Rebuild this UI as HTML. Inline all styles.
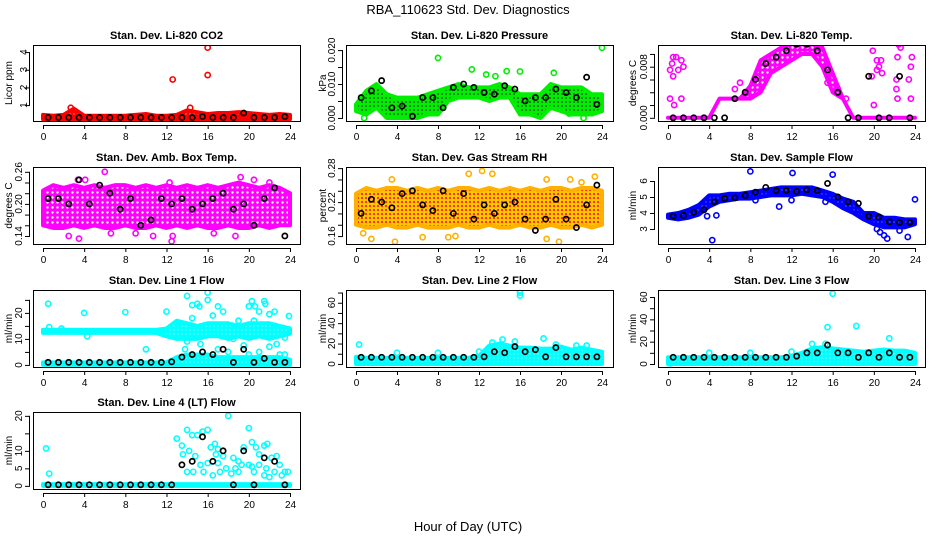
<!DOCTYPE html>
<html><head><meta charset="utf-8"><style>
body{margin:0;background:#fff;}
svg{display:block;font-family:"Liberation Sans",Arial,sans-serif;}
</style></head><body>
<svg id="c" width="936" height="540" xmlns="http://www.w3.org/2000/svg">
<rect width="936" height="540" fill="#fff"/>
<defs>
<pattern id="pat-red" width="4" height="4" patternUnits="userSpaceOnUse"><rect width="4" height="4" fill="#ff0000"/><circle cx="2" cy="2" r="0.7" fill="#ff9090"/></pattern>
<pattern id="pat-green" width="4" height="4" patternUnits="userSpaceOnUse"><rect width="4" height="4" fill="#00ee00"/><circle cx="2" cy="2" r="0.9" fill="#104010"/></pattern>
<pattern id="pat-magenta" width="5" height="5" patternUnits="userSpaceOnUse"><rect width="5" height="5" fill="#ff00ff"/><circle cx="2.5" cy="2.5" r="1.2" fill="#ffffff"/></pattern>
<pattern id="pat-orange" width="4" height="4" patternUnits="userSpaceOnUse"><rect width="4" height="4" fill="#ffc800"/><circle cx="2" cy="2" r="1.1" fill="#ff2000"/></pattern>
<pattern id="pat-blue" width="4" height="4" patternUnits="userSpaceOnUse"><rect width="4" height="4" fill="#0000ff"/><circle cx="2" cy="2" r="0.6" fill="#8080ff"/></pattern>
<pattern id="pat-cyan" width="4" height="4" patternUnits="userSpaceOnUse"><rect width="4" height="4" fill="#00ffff"/><circle cx="2" cy="2" r="0.6" fill="#c0ffff"/></pattern>
</defs>
<text x="468" y="14" text-anchor="middle" font-size="13">RBA_110623  Std. Dev. Diagnostics</text>
<text x="468" y="531" text-anchor="middle" font-size="13">Hour of Day (UTC)</text>
</svg>
<script>
// ---- shared data ----
const bandHours = [0,1,2,3,4,5,6,7,8,9,10,11,12,13,14,15,16,17,18,19,20,21,22,23,24];
const blackHours = [0.5,1.5,2.5,3.5,4.5,5.5,6.5,7.5,8.5,9.5,10.5,11.5,12.5,13.5,14.5,15.5,16.5,17.5,18.5,19.5,20.5,21.5,22.5,23.5];
const xTicks = [0,4,8,12,16,20,24];

// CO2
const co2Lo = [0.2,0.2,0.2,0.2,0.2,0.2,0.2,0.2,0.2,0.2,0.2,0.2,0.2,0.2,0.2,0.2,0.2,0.2,0.2,0.2,0.2,0.2,0.2,0.2,0.2];
const co2Hi = [0.45,0.4,0.45,0.8,0.4,0.4,0.4,0.4,0.4,0.45,0.5,0.4,0.4,0.45,0.7,0.6,0.5,0.55,0.55,0.6,0.55,0.5,0.45,0.5,0.45];
const co2Out = [[12.6,2.45],[16,4.25],[16,2.7],[2.7,0.85],[14.3,0.85]];
const co2Black = [0.3,0.3,0.3,0.3,0.3,0.3,0.3,0.3,0.3,0.3,0.3,0.3,0.3,0.3,0.3,0.35,0.3,0.3,0.3,0.55,0.3,0.3,0.3,0.35];
// Pressure
const prLo = [0.002,0.001,0.003,0,0,0,0,0.001,0.001,0.005,0.006,0.006,0.006,0.005,0.006,0.006,0.001,0.001,0,0.003,0.002,0.001,0.001,0.001,0.002];
const prHi = [0.004,0.008,0.010,0.007,0.006,0.006,0.006,0.007,0.008,0.009,0.010,0.009,0.009,0.009,0.010,0.009,0.007,0.007,0.007,0.010,0.009,0.009,0.009,0.007,0.007];
const prOut = [[8,0.0177],[11.3,0.0143],[12.7,0.0128],[13.6,0.0123],[14.7,0.0138],[16,0.0137],[19.3,0.0133],[24,0.0207],[0.8,0],[20.8,0.0013],[22.2,0]];
const prBlack = [0.006,0.008,0.011,0.003,0.0035,0.0005,0.006,0.006,0.003,0.009,0.010,0.009,0.0075,0.007,0.0095,0.0085,0.005,0.006,0.006,0.0085,0.0075,0.006,0.012,0.004];
// Temp
const tpLo = [0,0,0,0,0,0.003,0.003,0.003,0.003,0.004,0.007,0.008,0.009,0.010,0.010,0.008,0.004,0.003,0,0,0,0,0,0,0];
const tpHi = [0,0,0,0,0,0.003,0.003,0.003,0.005,0.009,0.010,0.011,0.0115,0.0115,0.0115,0.011,0.007,0.003,0,0,0,0,0,0,0];
const tpOut = [[0.2,0.0075],[0.5,0.0095],[0.8,0.0095],[0.4,0.0085],[0.5,0.0065],[1,0.0075],[1.3,0.009],[1.5,0.008],[0.2,0.003],[0.6,0.002],[1.3,0.003],[19.9,0.0105],[20.3,0.009],[20.7,0.009],[20.5,0.008],[20.3,0.0075],[19.8,0.0065],[20.8,0.007],[22.4,0.0115],[22.6,0.011],[22.3,0.0095],[22.2,0.006],[22.3,0.003],[22.2,0.0045],[23.7,0.0095],[23.6,0.008],[23.6,0.003],[23.4,0.006],[20,0.002],[7,0.0055],[6.5,0.0045],[8.8,0.0065],[15.5,0.0055],[16.5,0.0045],[17.3,0.003]];
const tpBlack = [0,0,0,0,0,0,0.003,0.004,0.006,0.0085,0.0095,0.0105,0.0115,0.0115,0.0105,0.0075,0.004,0,0,0.0065,0,0,0.0065,0];
// Amb box
const abLo = [0.16,0.155,0.155,0.16,0.155,0.16,0.155,0.155,0.16,0.155,0.155,0.16,0.155,0.16,0.155,0.16,0.155,0.155,0.16,0.155,0.155,0.16,0.155,0.16,0.16];
const abHi = [0.225,0.235,0.23,0.235,0.23,0.235,0.23,0.235,0.235,0.23,0.235,0.23,0.235,0.23,0.235,0.23,0.235,0.23,0.235,0.24,0.235,0.23,0.235,0.23,0.22];
const abOut = [[2.5,0.14],[3.5,0.135],[6,0.26],[6.6,0.145],[9,0.145],[10.7,0.14],[12.5,0.13],[12.6,0.14],[19.2,0.25],[20.5,0.245],[18.7,0.14],[16.6,0.145],[3.4,0.245],[4.1,0.245],[12.3,0.24],[22,0.24]];
const abBlack = [0.21,0.21,0.20,0.245,0.20,0.235,0.22,0.19,0.21,0.16,0.17,0.21,0.20,0.21,0.19,0.20,0.21,0.22,0.19,0.20,0.16,0.21,0.23,0.14];
// Gas stream RH
const rhLo = [0.18,0.175,0.175,0.18,0.175,0.175,0.18,0.175,0.175,0.175,0.18,0.175,0.175,0.18,0.175,0.175,0.18,0.175,0.175,0.18,0.175,0.175,0.18,0.175,0.18];
const rhHi = [0.235,0.245,0.24,0.245,0.245,0.24,0.245,0.24,0.245,0.24,0.245,0.245,0.24,0.245,0.24,0.245,0.24,0.245,0.24,0.245,0.245,0.24,0.245,0.245,0.24];
const rhOut = [[0.7,0.165],[1.5,0.155],[3.5,0.26],[6.5,0.158],[9,0.158],[11,0.27],[12.3,0.275],[13.3,0.27],[18.6,0.26],[18.6,0.155],[19.8,0.15],[20.9,0.26],[22,0.255],[23.3,0.265],[9.7,0.16],[3.8,0.15]];
const rhBlack = [0.20,0.225,0.22,0.21,0.235,0.24,0.215,0.205,0.24,0.20,0.235,0.19,0.215,0.20,0.215,0.22,0.19,0.17,0.19,0.225,0.19,0.175,0.215,0.25];
// Sample flow
const sfLo = [3.7,3.6,3.7,3.9,4.4,4.7,4.8,4.9,4.9,5.0,5.1,5.1,5.1,5.2,5.1,5.0,4.7,4.3,4.0,3.6,3.3,3.1,3.1,3.1,3.3];
const sfHi = [3.9,4.0,4.2,4.5,5.1,5.1,5.2,5.2,5.3,5.4,5.5,5.6,5.6,5.6,5.6,5.4,5.2,4.9,4.7,4.0,4.0,3.7,3.7,3.6,3.6];
const sfOut = [[4.3,2.3],[8,6.6],[12.1,6.5],[16,6.4],[10.8,4.4],[12,4.8],[3.8,3.8],[4.7,3.85],[20.3,3.0],[20.6,2.8],[21.3,2.4],[23.3,2.5],[24,4.85],[22.5,2.9],[21,2.6],[8.5,4.8],[15.3,4.7]];
const sfBlack = [3.8,3.85,4.05,4.2,4.7,4.9,4.95,5.1,5.3,5.6,5.4,5.4,5.35,5.45,5.4,5.85,5.0,4.7,4.6,3.8,3.75,3.45,3.4,3.4];
// Line 1
const l1Lo = [12.3,12.3,12.3,12.3,12.3,12.3,12.3,12.3,12.3,12.3,12.3,12.3,11,10,10,10,11,11,10,11,10,11,10,11,12];
const l1Hi = [13.5,13.5,13.5,13.5,13.5,13.5,13.5,13.5,13.5,13.5,13.5,13.5,14,17,16,15,16,16,16,15,16,16,16,15,14];
const l1Lo2 = [0,0,0,0,0,0,0,0,0,0,0,0,0,0,0,0,0,0,0,0,0,0,0,0,0];
const l1Hi2 = [1,1,1,1,1,1,1,1,1,1,1,1,1,3,4,4,4,3,3,3,3,3,3,3,2];
const l1Out = [[0.5,23.5],[0.6,14.5],[1.8,14],[4,20],[4.3,11],[8,20.3],[12,20.5],[14,26.5],[14.5,23],[15,23.5],[15.2,22.5],[16,27.8],[16,25],[16.5,19],[17,22.5],[17.5,20.5],[18.5,10],[20,22.5],[20.3,24.5],[20.6,22.5],[21,20.5],[21.5,24.5],[21.6,23.5],[22,19.5],[22.5,20.5],[23.9,18.8],[23.5,10.5],[10,6],[14,9],[13.8,6],[15.3,8],[17,6],[18,5],[19.5,7.5],[20,4],[21,5],[22,7],[22.7,8],[23,4],[23.5,4],[13,16],[14.5,18],[19,17],[20.5,17]];
const l1Black = [1,1,1,1,1,1,1,1,1,1,1,1,1.2,3,4,5,4,6,1,6,1,2.5,1,1];
// Line 2
const l2Lo = [0,0,0,0,0,0,0,0,0,0,0,0,0,0,0,0,0,0,0,0,0,0,0,0,0];
const l2Hi = [7,6,6,6,6,6,6,6,6,6,6,6,8,18,20,18,16,16,15,15,17,14,16,14,12];
const l2Out = [[0.3,19],[4,11],[8,11],[12,12],[13.3,21],[14.3,24],[15.5,22],[16,67],[16,70],[16,72],[18.3,25],[19.5,19],[21.5,18],[22.5,18]];
const l2Black = [6.5,6.5,6.5,6.5,6.5,6.5,6.5,6.5,6.5,6.5,6.5,6.5,7,12,11,17,12,14,7,16,7,7,7,7];
// Line 3
const l3Lo = [0,0,0,0,0,0,0,0,0,0,0,0,0,0,0,0,0,0,0,0,0,0,0,0,0];
const l3Hi = [6,6,6,6,6,6,6,6,6,6,6,6,7,10,14,15,14,13,12,11,12,13,12,12,10];
const l3Out = [[0.2,0.5],[4,10],[8,10],[12,11],[15.5,33],[16,63],[18.3,34],[21.5,23],[14,18],[15.3,18],[22,9]];
const l3Black = [6,6,6,6,6,6,6,6,6,6,6,6,7,10,10,17,10,10,6,10,6,10,6,6];
// Line 4
const l4Lo = [0,0,0,0,0,0,0,0,0,0,0,0,0,0,0,0,0,0,0,0,0,0,0,0,0];
const l4Hi = [0.5,0.5,0.5,0.5,0.5,0.5,0.5,0.5,0.5,0.5,0.5,0.5,0.5,0.5,0.5,0.5,0.5,0.5,0.5,0.5,0.5,0.5,0.5,0.5,0.5];
const l4Out = [[0.3,10.7],[0.6,3.5],[13,13.5],[13.5,11.5],[14,16],[14.5,14.5],[15,14.5],[15.5,15.5],[16,16],[16.3,11],[16.7,12],[17,10.5],[17.5,8.5],[18,20],[18.5,8],[19,7],[19.5,11],[20,16.5],[20.3,12.5],[20.7,11],[21,9],[21.5,11.5],[21.8,12],[22.2,8],[22.7,8.5],[23,6],[23.5,4],[13.6,9],[14.2,10],[14.8,8.5],[15.3,6],[15.6,4],[16,6.5],[16.5,3],[17.2,4],[17.8,5],[18.3,3.5],[19,4],[19.3,6],[20,6],[20.5,4],[21,6],[21.5,3],[22,2.5],[22.5,4],[23.2,3],[23.8,4],[14,4],[14.6,4],[17,6.5],[16.8,9],[18.7,5],[20.3,5.5],[21.7,5]];
const l4Black = [0.3,0.3,0.3,0.3,0.3,0.3,0.3,0.3,0.3,0.3,0.3,0.3,0.3,6,7,14,7,10,0.3,10,0.3,8,7,0.3];

const S = "http://www.w3.org/2000/svg";
const svg = document.getElementById('c');
function mk(tag, attrs, parent){const e=document.createElementNS(S,tag);for(const k in attrs)e.setAttribute(k,attrs[k]);(parent||svg).appendChild(e);return e;}

const cols = [{x0:33,x1:300,a:43,b:290,yl:8},{x0:346,x1:613,a:356,b:602,yl:322},{x0:658,x1:925,a:668,b:915,yl:632}];
const rows = [{y0:45,y1:121},{y0:167,y1:244},{y0:290,y1:367},{y0:412,y1:489}];

const panels = [
 {name:'co2',title:'Stan. Dev. Li-820 CO2',yl:'Licor ppm',c:0,r:0,ymin:0.1,ymax:4.4,ticks:[1,2,3,4],labels:['1','2','3','4'],lo:co2Lo,hi:co2Hi,out:co2Out,blk:co2Black,pat:'pat-red',stroke:'#ff0000',lab:10},
 {name:'pressure',title:'Stan. Dev. Li-820 Pressure',yl:'kPa',c:1,r:0,ymin:-0.0009,ymax:0.0215,ticks:[0,0.005,0.010,0.015,0.020],labels:['0.000','','0.010','','0.020'],lo:prLo,hi:prHi,out:prOut,blk:prBlack,pat:'pat-green',stroke:'#00ee00',lab:15},
 {name:'temp',title:'Stan. Dev. Li-820 Temp.',yl:'degrees C',c:2,r:0,ymin:-0.0005,ymax:0.0114,ticks:[0,0.002,0.004,0.006,0.008,0.010],labels:['0.000','','','','0.008',''],lo:tpLo,hi:tpHi,out:tpOut,blk:tpBlack,pat:'pat-magenta',stroke:'#ff00ff',lab:15},
 {name:'amb-box-temp',title:'Stan. Dev. Amb. Box Temp.',yl:'degrees C',c:0,r:1,ymin:0.125,ymax:0.269,ticks:[0.14,0.16,0.18,0.20,0.22,0.24,0.26],labels:['0.14','','','0.20','','','0.26'],lo:abLo,hi:abHi,out:abOut,blk:abBlack,pat:'pat-magenta',stroke:'#ff00ff',lab:15},
 {name:'gas-rh',title:'Stan. Dev. Gas Stream RH',yl:'percent',c:1,r:1,ymin:0.146,ymax:0.282,ticks:[0.16,0.18,0.20,0.22,0.24,0.26,0.28],labels:['0.16','','','0.22','','','0.28'],lo:rhLo,hi:rhHi,out:rhOut,blk:rhBlack,pat:'pat-orange',stroke:'#ffb000',lab:15},
 {name:'sample-flow',title:'Stan. Dev. Sample Flow',yl:'ml/min',c:2,r:1,ymin:2.06,ymax:6.875,ticks:[3,4,5,6],labels:['3','4','5','6'],lo:sfLo,hi:sfHi,out:sfOut,blk:sfBlack,pat:'pat-blue',stroke:'#0000ff',lab:15},
 {name:'line1-flow',title:'Stan. Dev. Line 1 Flow',yl:'ml/min',c:0,r:2,ymin:-0.8,ymax:28.8,ticks:[0,5,10,15,20,25],labels:['0','','10','','20',''],lo:l1Lo,hi:l1Hi,lo2:l1Lo2,hi2:l1Hi2,out:l1Out,blk:l1Black,pat:'pat-cyan',stroke:'#00ffff',lab:15},
 {name:'line2-flow',title:'Stan. Dev. Line 2 Flow',yl:'ml/min',c:1,r:2,ymin:-3,ymax:72.5,ticks:[0,10,20,30,40,50,60,70],labels:['0','','20','','40','','60',''],lo:l2Lo,hi:l2Hi,out:l2Out,blk:l2Black,pat:'pat-cyan',stroke:'#00ffff',lab:15},
 {name:'line3-flow',title:'Stan. Dev. Line 3 Flow',yl:'ml/min',c:2,r:2,ymin:-2.7,ymax:66.3,ticks:[0,10,20,30,40,50,60],labels:['0','','20','','40','','60'],lo:l3Lo,hi:l3Hi,out:l3Out,blk:l3Black,pat:'pat-cyan',stroke:'#00ffff',lab:15},
 {name:'line4-flow',title:'Stan. Dev. Line 4 (LT) Flow',yl:'ml/min',c:0,r:3,ymin:-0.9,ymax:21.1,ticks:[0,5,10,15,20],labels:['0','5','10','','20'],lo:l4Lo,hi:l4Hi,out:l4Out,blk:l4Black,pat:'pat-cyan',stroke:'#00ffff',lab:15}
];

panels.forEach(p=>{
  const C=cols[p.c], R=rows[p.r];
  const g=mk('g',{});
  
  
  const X=h=>C.a+(C.b-C.a)*h/24;
  const Y=v=>R.y1-(R.y1-R.y0)*(v-p.ymin)/(p.ymax-p.ymin);
  const clipId='clip-'+p.name;
  const cp=mk('clipPath',{id:clipId},g);
  mk('rect',{x:C.x0,y:R.y0,width:C.x1-C.x0,height:R.y1-R.y0},cp);
  const data=mk('g',{'clip-path':'url(#'+clipId+')'},g);
  function band(lo,hi,nm){
    let pts=bandHours.map((h,i)=>X(h)+','+Y(hi[i]));
    for(let i=bandHours.length-1;i>=0;i--)pts.push(X(bandHours[i])+','+Y(lo[i]));
    const b=mk('polygon',{points:pts.join(' '),fill:'url(#'+p.pat+')',stroke:p.stroke,'stroke-width':4,'stroke-linejoin':'round'},data);
    
    
  }
  band(p.lo,p.hi,p.name+'-band');
  if(p.lo2) band(p.lo2,p.hi2,p.name+'-low-band');
  p.out.forEach(d=>{
    const c=mk('circle',{cx:X(d[0]),cy:Y(d[1]),r:2.6,fill:'none',stroke:p.stroke,'stroke-width':1.6},data);
    
    
  });
  p.blk.forEach((v,i)=>{
    const c=mk('circle',{cx:X(blackHours[i]),cy:Y(v),r:2.6,fill:'none',stroke:'#000','stroke-width':1.7},data);
    
    
  });
  const fr=mk('rect',{x:C.x0+0.5,y:R.y0+0.5,width:C.x1-C.x0,height:R.y1-R.y0,fill:'none',stroke:'#000','stroke-width':1},g);
  
  
  const t=mk('text',{x:(C.x0+C.x1)/2,y:R.y0-6,'text-anchor':'middle','font-size':11,'font-weight':'bold'},g);
  t.textContent=p.title;
  
  
  const xa=mk('g',{},g);
  
  
  mk('line',{x1:X(0),x2:X(24),y1:R.y1+4.5,y2:R.y1+4.5,stroke:'#000'},xa);
  xTicks.forEach(h=>{
    mk('line',{x1:X(h)+0.5,x2:X(h)+0.5,y1:R.y1+4,y2:R.y1+8,stroke:'#000'},xa);
    const tl=mk('text',{x:X(h)+0.5,y:R.y1+19,'text-anchor':'middle','font-size':10},xa);
    tl.textContent=h;
  });
  const ya=mk('g',{},g);
  
  
  const yt0=Y(p.ticks[0]), yt1=Y(p.ticks[p.ticks.length-1]);
  mk('line',{x1:C.x0-3.5,x2:C.x0-3.5,y1:yt0,y2:yt1,stroke:'#000'},ya);
  p.ticks.forEach((v,i)=>{
    const y=Y(v);
    mk('line',{x1:C.x0-8,x2:C.x0-3,y1:y+0.5,y2:y+0.5,stroke:'#000'},ya);
    if(p.labels[i]){
      const lx=C.x0-p.lab+4;
      const tl=mk('text',{x:lx,y:y,'text-anchor':'middle','font-size':10,transform:'rotate(-90 '+lx+' '+y+')'},ya);
      tl.textContent=p.labels[i];
    }
  });
  const tx=C.yl+4, ty=(R.y0+R.y1)/2;
  const yl=mk('text',{x:tx,y:ty,'text-anchor':'middle','font-size':10,transform:'rotate(-90 '+tx+' '+ty+')'},g);
  yl.textContent=p.yl;
  
  
});
</script>
</body></html>
